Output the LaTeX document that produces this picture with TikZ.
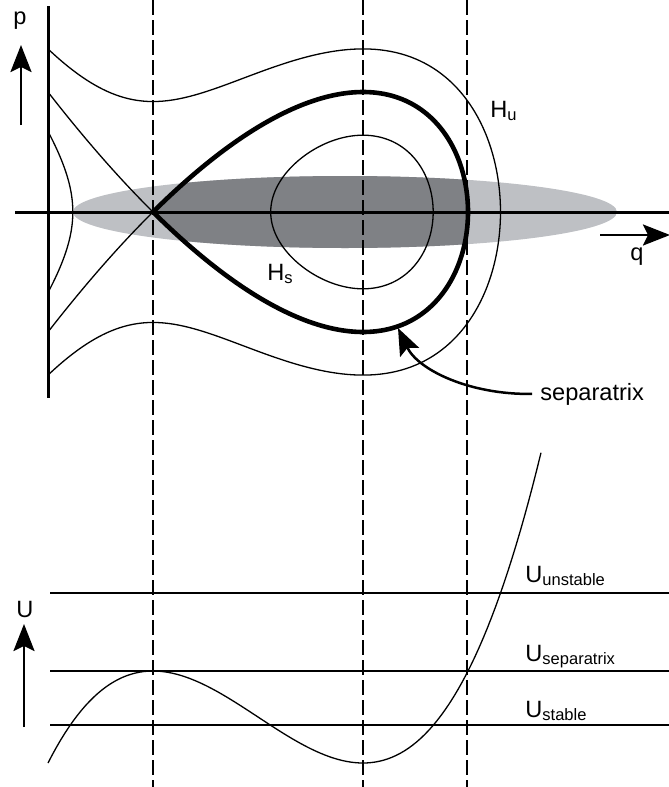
\documentclass[tikz,border=0pt]{standalone}
\usepackage{fontspec}
\setmainfont{Liberation Sans}
\usetikzlibrary{arrows.meta}
\definecolor{shadelight}{RGB}{190,192,196}
\definecolor{shadedark}{RGB}{127,129,133}
\tikzset{
  declare function={pot(\q)=0.9329*\q*\q*(1.05-\q/3);
                    mom(\e,\q)=100*sqrt(max(0,\e+pot(\q)));},
  orbit/.style={line width=0.65pt},
  axis/.style={line width=1.5pt},
  guide/.style={line width=0.55pt,dash pattern=on 7.5pt off 2.5pt},
  bigarrow/.style={line width=1.25pt,-{Stealth[length=13.5pt,width=10.5pt,inset=2.5pt]}},
  lbl/.style={inner sep=0pt,font=\fontsize{11.8}{14}\selectfont},
}
% separatrix loop (closed)
\newcommand{\sepcurve}{plot[domain=0:180] ({153+100*(1.575-1.575*cos(\x))},{212-mom(0,1.575-1.575*cos(\x))})
  -- plot[domain=180:0] ({153+100*(1.575-1.575*cos(\x))},{212+mom(0,1.575-1.575*cos(\x))}) -- cycle}
\begin{document}
\begin{tikzpicture}[x=0.5pt,y=-0.5pt,samples=120]
    \useasboundingbox (0,0) rectangle (669,787);
    % shaded bunch
    \fill[shadelight] (345,212) ellipse [x radius=272, y radius=36];
    \begin{scope}
        \clip \sepcurve;
        \fill[shadedark] (345,212) ellipse [x radius=272, y radius=36];
    \end{scope}
    \foreach \g in {153,363,467}
        \draw[guide] (\g,0) -- (\g,787);
    % phase space
    \draw[orbit] plot[domain=0:180] ({153+100*(1.9894-0.8124*cos(\x))},{212-mom(-0.85,1.9894-0.8124*cos(\x))})
        -- plot[domain=180:360] ({153+100*(1.9894-0.8124*cos(\x))},{212+mom(-0.85,1.9894-0.8124*cos(\x))}) -- cycle;
    \draw[orbit] plot[domain=1:0] ({153+100*(-0.8018-0.2482*\x*\x)},{212-mom(-0.79,-0.8018-0.2482*\x*\x)})
        -- plot[domain=0:1] ({153+100*(-0.8018-0.2482*\x*\x)},{212+mom(-0.79,-0.8018-0.2482*\x*\x)});
    \draw[orbit] plot[domain=-1.05:0] ({153+100*\x},{212-mom(0,\x)})
        -- plot[domain=0:-1.05] ({153+100*\x},{212+mom(0,\x)});
    \draw[orbit] plot[domain=0:180] ({153+100*(1.21245-2.26245*cos(\x))},{212-mom(1.22,1.21245-2.26245*cos(\x))})
        -- plot[domain=180:0] ({153+100*(1.21245-2.26245*cos(\x))},{212+mom(1.22,1.21245-2.26245*cos(\x))});
    \draw[line width=2.3pt] \sepcurve;
    \draw[axis] (48,6) -- (48,398);
    \draw[axis] (15,212) -- (669,212);
    \draw[bigarrow] (21,125) -- (21,45);
    \draw[bigarrow] (600,235) -- (670,235);
    \node[lbl,anchor=base] (plab) at (20,25) {p};
    \node[lbl,anchor=base] (qlab) at (637,260) {q};
    \node[lbl,anchor=base west] (Hu) at (490,117) {H\textsubscript{u}};
    \node[lbl,anchor=base west] (Hs) at (267,280) {H\textsubscript{s}};
    \node[lbl,anchor=base west,inner sep=4pt] (seplab) at (532,400) {separatrix};
    \coordinate (septip) at (398,328);
    \draw[bigarrow] (seplab.west) .. controls +(-62,1) and +(20,42) .. (septip);
    % potential
    \foreach \lev in {593,671,725}
        \draw[orbit] (50,\lev) -- (669,\lev);
    \draw[orbit] plot[domain=-1.05:3.88] ({153+100*\x},{671+63.89*pot(\x)});
    \draw[bigarrow] (24,727) -- (24,624);
    \node[lbl,anchor=base] (Ulab) at (25,617) {U};
    \node[lbl,anchor=base west] (Uunst) at (525,582) {U\textsubscript{unstable}};
    \node[lbl,anchor=base west] (Usep) at (525,661) {U\textsubscript{separatrix}};
    \node[lbl,anchor=base west] (Ustab) at (525,717) {U\textsubscript{stable}};
\end{tikzpicture}
\end{document}
